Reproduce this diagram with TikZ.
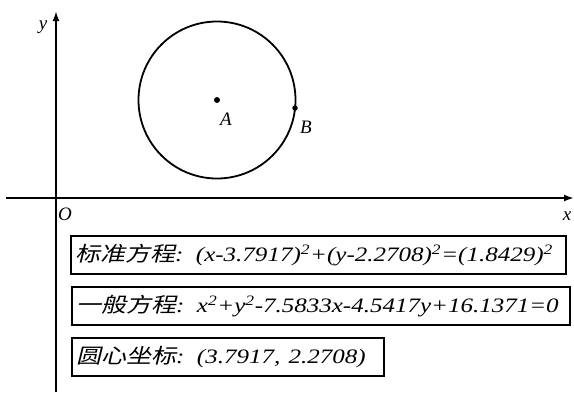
\documentclass[tikz,border=0pt]{standalone}
\usepackage{graphicx}
\usepackage{fontspec}
\setmainfont{Liberation Serif}
\newfontfamily\cjk[FakeSlant=0.2]{Noto Sans CJK SC}
\usetikzlibrary{arrows.meta}
\newcommand\widetxt[1]{\scalebox{1.22}[1]{#1}}
\tikzset{
  axis/.style={line width=2pt,-{Latex[length=10pt,width=7pt]}},
  curve/.style={line width=1.8pt},
  lbl/.style={font=\fontsize{19}{19}\selectfont\itshape,inner sep=0pt},
  eqbox/.style={draw,line width=2.2pt,anchor=north west,minimum height=38pt,inner xsep=4pt,align=left,font=\fontsize{20.5}{20.5}\selectfont\itshape},
  dot/.style={circle,fill,inner sep=0pt,minimum size=6pt}
}
\begin{document}
\begin{tikzpicture}[x=1pt,y=-1pt]
\useasboundingbox (0,0) rectangle (574,392);
\coordinate (O) at (56,198);
\coordinate (xs) at (6,198);
\coordinate (xe) at (574,198);
\coordinate (ys) at (56,392);
\coordinate (ye) at (56,11);
\draw[axis] (xs) -- (xe);
\draw[axis] (ys) -- (ye);
\node[lbl] (ylab) at (43,27) {y};
\node[lbl] (xlab) at (567,216) {x};
\node[lbl] (olab) at (65,214) {O};
\node[dot] (A) at (217,100) {};
\draw[curve] (A) circle (78.5);
\node[dot,minimum size=5.5pt] (B) at (295,108) {};
\node[lbl] (alab) at (226,119) {A};
\node[lbl] (blab) at (306,127) {B};
\node[eqbox,text width=487pt] (e1) at (70,235) {\widetxt{{\cjk 标准方程}: (x-3.7917)\textsuperscript{2}+(y-2.2708)\textsuperscript{2}=(1.8429)\textsuperscript{2}}};
\node[eqbox,text width=490pt] (e2) at (71,286) {\widetxt{{\cjk 一般方程}: x\textsuperscript{2}+y\textsuperscript{2}-7.5833x-4.5417y+16.1371=0}};
\node[eqbox,text width=304pt] (e3) at (71,337) {\widetxt{{\cjk 圆心坐标}: (3.7917, 2.2708)}};
\end{tikzpicture}
\end{document}
